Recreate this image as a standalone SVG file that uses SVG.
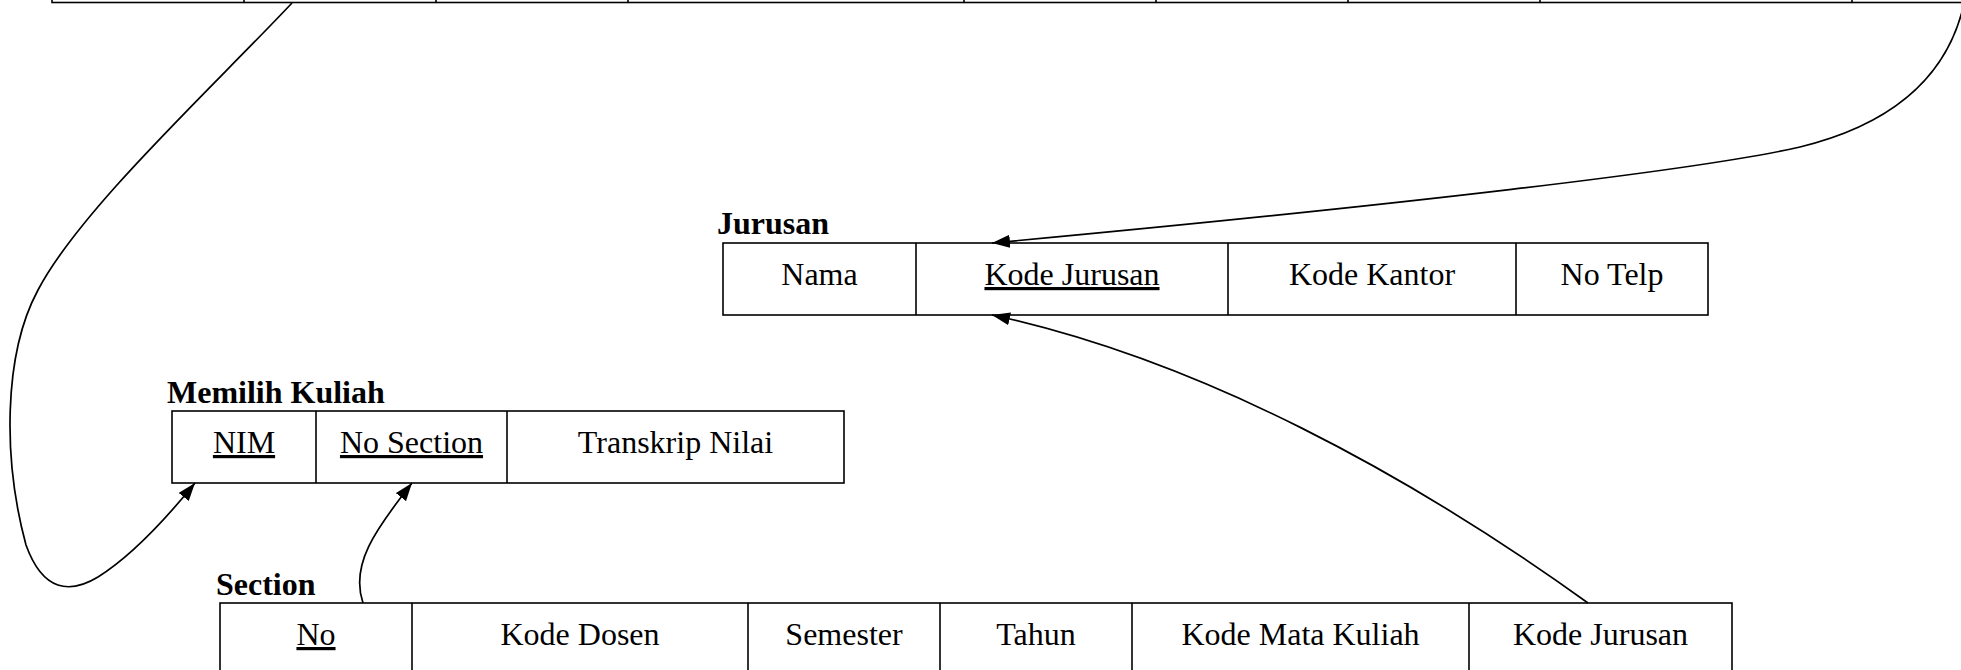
<svg xmlns="http://www.w3.org/2000/svg" width="1961" height="670" viewBox="0 0 1961 670">
<style>
.box{fill:#fff;stroke:#000;stroke-width:1.6}
.div{stroke:#000;stroke-width:1.6}
.t{font-family:"Liberation Serif","Times New Roman",serif;font-size:32px;fill:#000;text-anchor:middle}
.u{text-decoration:underline}
.lbl{font-family:"Liberation Serif","Times New Roman",serif;font-size:32px;font-weight:bold;fill:#000}
.con{fill:none;stroke:#000;stroke-width:1.7}
</style>
<defs>
<marker id="arr" markerUnits="userSpaceOnUse" markerWidth="20" markerHeight="14" refX="18" refY="6.5" orient="auto">
<path d="M0,0 L18,6.5 L0,13 z" fill="#000"/>
</marker>
</defs>
<rect width="1961" height="670" fill="#fff"/>
<g id="top-table">
<rect class="box" x="52" y="-80" width="1940" height="82.5"/>
<line class="div" x1="244" y1="-5" x2="244" y2="2.5"/>
<line class="div" x1="436" y1="-5" x2="436" y2="2.5"/>
<line class="div" x1="628" y1="-5" x2="628" y2="2.5"/>
<line class="div" x1="964" y1="-5" x2="964" y2="2.5"/>
<line class="div" x1="1156" y1="-5" x2="1156" y2="2.5"/>
<line class="div" x1="1348" y1="-5" x2="1348" y2="2.5"/>
<line class="div" x1="1540" y1="-5" x2="1540" y2="2.5"/>
<line class="div" x1="1852" y1="-5" x2="1852" y2="2.5"/>
</g>
<g id="jurusan">
<text class="lbl" x="717" y="234">Jurusan</text>
<rect class="box" x="723" y="243" width="985" height="72"/>
<line class="div" x1="916" y1="243" x2="916" y2="315"/>
<line class="div" x1="1228" y1="243" x2="1228" y2="315"/>
<line class="div" x1="1516" y1="243" x2="1516" y2="315"/>
<text class="t" x="819.5" y="285">Nama</text>
<text class="t u" x="1072" y="285">Kode Jurusan</text>
<text class="t" x="1372" y="285">Kode Kantor</text>
<text class="t" x="1612" y="285">No Telp</text>
</g>
<g id="memilih-kuliah">
<text class="lbl" x="167" y="403">Memilih Kuliah</text>
<rect class="box" x="172" y="411" width="672" height="72"/>
<line class="div" x1="316" y1="411" x2="316" y2="483"/>
<line class="div" x1="507" y1="411" x2="507" y2="483"/>
<text class="t u" x="244" y="453">NIM</text>
<text class="t u" x="411.5" y="453">No Section</text>
<text class="t" x="675.5" y="453">Transkrip Nilai</text>
</g>
<g id="section">
<text class="lbl" x="216" y="595">Section</text>
<rect class="box" x="220" y="603" width="1512" height="80"/>
<line class="div" x1="412" y1="603" x2="412" y2="683"/>
<line class="div" x1="748" y1="603" x2="748" y2="683"/>
<line class="div" x1="940" y1="603" x2="940" y2="683"/>
<line class="div" x1="1132" y1="603" x2="1132" y2="683"/>
<line class="div" x1="1469" y1="603" x2="1469" y2="683"/>
<text class="t u" x="316" y="645">No</text>
<text class="t" x="580" y="645">Kode Dosen</text>
<text class="t" x="844" y="645">Semester</text>
<text class="t" x="1036" y="645">Tahun</text>
<text class="t" x="1300.5" y="645">Kode Mata Kuliah</text>
<text class="t" x="1600.5" y="645">Kode Jurusan</text>
</g>
<g id="connectors">
<path class="con" marker-end="url(#arr)" d="M292,3 C210,90 80,210 38,290 C3,355 3,460 26,545 C43,592 70,594 98,577 C133,555 165,520 195,483"/>
<path class="con" marker-end="url(#arr)" d="M1963,8 C1945,80 1890,125 1800,147 C1700,170 1400,205 992,243"/>
<path class="con" marker-end="url(#arr)" d="M1588,603 C1410,475 1200,360 992,315"/>
<path class="con" marker-end="url(#arr)" d="M363,603 C350,565 375,530 412,483"/>
</g>
</svg>
